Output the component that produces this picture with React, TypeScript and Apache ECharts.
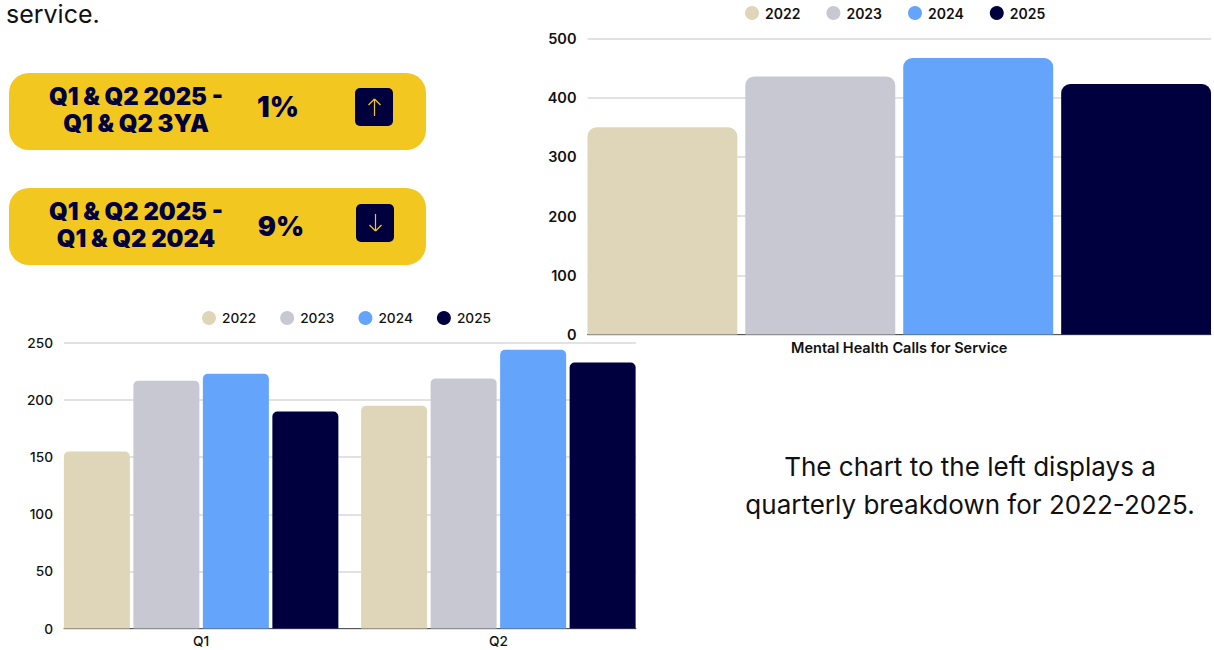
import React, { useEffect, useRef } from "react";
import * as echarts from "echarts";

const years = ["2022", "2023", "2024", "2025"];
const yearColors = ["#DFD6BA", "#C8C8D2", "#64A5FB", "#00003F"];
const totalCategories = ["Mental Health Calls for Service"];
const total2022 = [350];
const total2023 = [436];
const total2024 = [467];
const total2025 = [423];
const quarterCategories = ["Q1", "Q2"];
const quarter2022 = [155, 195];
const quarter2023 = [217, 219];
const quarter2024 = [223, 244];
const quarter2025 = [190, 233];
const cardALines = ["Q1 & Q2 2025 -", "Q1 & Q2 3YA"];
const cardAValue = "1%";
const cardBLines = ["Q1 & Q2 2025 -", "Q1 & Q2 2024"];
const cardBValue = "9%";
const sideNote = ["The chart to the left displays a", "quarterly breakdown for 2022-2025."];
const leadText = "service.";

const FONT = "Inter";
const NAVY = "#00003F";
const YELLOW = "#F2C71F";

function card(
  y: number,
  lines: string[],
  value: string,
  up: boolean,
  boxX: number,
  boxY: number,
  valueX: number,
  valueY: number,
  valueSize: number,
  lineYs: number[],
): any[] {
  const cx = boxX + 19.5;
  const tip = up ? boxY + 11 : boxY + 27;
  const tail = up ? boxY + 28 : boxY + 10;
  const head = up ? tip + 6 : tip - 6;
  const lineStyle = { stroke: YELLOW, lineWidth: 1.2 };
  const headline = `900 23.8px ${FONT}`;
  return [
    { type: "rect", shape: { x: 9, y, width: 417, height: 77, r: 20 }, style: { fill: YELLOW } },
    {
      type: "text", x: 136, y: lineYs[0],
      style: { text: lines[0], font: headline, fill: NAVY, align: "center", verticalAlign: "middle" },
    },
    {
      type: "text", x: 136, y: lineYs[1],
      style: { text: lines[1], font: headline, fill: NAVY, align: "center", verticalAlign: "middle" },
    },
    {
      type: "text", x: valueX, y: valueY,
      style: { text: value, font: `900 ${valueSize}px ${FONT}`, fill: NAVY, align: "center", verticalAlign: "middle" },
    },
    { type: "rect", shape: { x: boxX, y: boxY, width: 38, height: 38, r: 5 }, style: { fill: NAVY } },
    { type: "line", shape: { x1: cx, y1: tail, x2: cx, y2: tip }, style: lineStyle },
    { type: "line", shape: { x1: cx - 6, y1: head, x2: cx, y2: tip }, style: lineStyle },
    { type: "line", shape: { x1: cx + 6, y1: head, x2: cx, y2: tip }, style: lineStyle },
  ];
}

function App() {
  const ref = useRef<HTMLDivElement>(null);
  useEffect(() => {
    document.body.style.margin = "0";
    const chart = echarts.init(ref.current!, undefined, { renderer: "svg" });

    const smallText = { color: "#111", fontFamily: FONT, fontWeight: 500 as const, fontSize: 13.7 };
    const largeText = { color: "#111", fontFamily: FONT, fontWeight: 600 as const, fontSize: 14.5 };
    const gridLine = { show: true, lineStyle: { color: "#D9D9D9", width: 1.5 } };
    const legendBase = {
      data: years,
      icon: "circle",
      itemWidth: 14,
      itemHeight: 14,
      padding: 0,
      selectedMode: false,
      orient: "horizontal" as const,
    };

    const totals = [total2022, total2023, total2024, total2025];
    const quarters = [quarter2022, quarter2023, quarter2024, quarter2025];

    chart.setOption({
      animation: false,
      backgroundColor: "#FFFFFF",
      color: yearColors,
      legend: [
        { ...legendBase, left: 745, top: 6, itemGap: 26, textStyle: { ...largeText, fontSize: 14, padding: [0, 0, 0, 1] } },
        { ...legendBase, left: 202, top: 311, itemGap: 24, textStyle: { ...smallText, padding: [0, 0, 0, 1] } },
      ],
      grid: [
        { left: 587.5, top: 38.5, width: 623.5, height: 296 },
        { left: 64, top: 343, width: 572, height: 285.5 },
        { left: 52.5, top: 343, width: 594.5, height: 285.5 },
      ],
      xAxis: [
        {
          type: "category", gridIndex: 0, data: totalCategories,
          axisTick: { show: false },
          axisLine: { lineStyle: { color: "#555" } },
          axisLabel: { ...largeText, margin: 5 },
        },
        {
          type: "category", gridIndex: 1, data: quarterCategories,
          axisTick: { show: false },
          axisLine: { lineStyle: { color: "#555" } },
          axisLabel: { show: false },
        },
        {
          type: "category", gridIndex: 2, data: quarterCategories,
          axisTick: { show: false },
          axisLine: { show: false },
          axisLabel: { ...smallText, margin: 5 },
        },
      ],
      yAxis: [
        {
          type: "value", gridIndex: 0, min: 0, max: 500, interval: 100,
          axisLine: { show: false }, axisTick: { show: false },
          axisLabel: { ...largeText, margin: 11 }, splitLine: gridLine,
        },
        {
          type: "value", gridIndex: 1, min: 0, max: 250, interval: 50,
          axisLine: { show: false }, axisTick: { show: false },
          axisLabel: { ...smallText, margin: 11 }, splitLine: gridLine,
        },
        {
          type: "value", gridIndex: 2, min: 0, max: 250, interval: 50, show: false,
          splitLine: { show: false },
        },
      ],
      series: [
        ...years.map((name, i) => ({
          name, type: "bar", xAxisIndex: 0, yAxisIndex: 0, data: totals[i],
          barWidth: 150, barGap: "5.3%",
          itemStyle: { color: yearColors[i], borderRadius: [9, 9, 0, 0] },
        })),
        ...years.map((name, i) => ({
          name, type: "bar", xAxisIndex: 2, yAxisIndex: 2, data: quarters[i],
          barWidth: 66, barGap: "5.3%",
          itemStyle: { color: yearColors[i], borderRadius: [5, 5, 0, 0] },
        })),
      ],
      graphic: [
        {
          type: "text", x: 6, y: 14,
          style: { text: leadText, font: `400 25px ${FONT}`, fill: "#111", verticalAlign: "middle" },
        },
        ...card(73, cardALines, cardAValue, true, 355, 88, 278, 107, 28, [96, 123]),
        ...card(188, cardBLines, cardBValue, false, 356, 204, 281, 226, 27, [211, 238]),
        {
          type: "text", x: 970, y: 466.5,
          style: { text: sideNote[0], font: `400 26px ${FONT}`, fill: "#111", align: "center", verticalAlign: "middle" },
        },
        {
          type: "text", x: 970, y: 504.5,
          style: { text: sideNote[1], font: `400 26px ${FONT}`, fill: "#111", align: "center", verticalAlign: "middle" },
        },
      ],
    });
    return () => chart.dispose();
  }, []);
  return <div ref={ref} style={{ width: 1214, height: 650 }} />;
}

export default App;
